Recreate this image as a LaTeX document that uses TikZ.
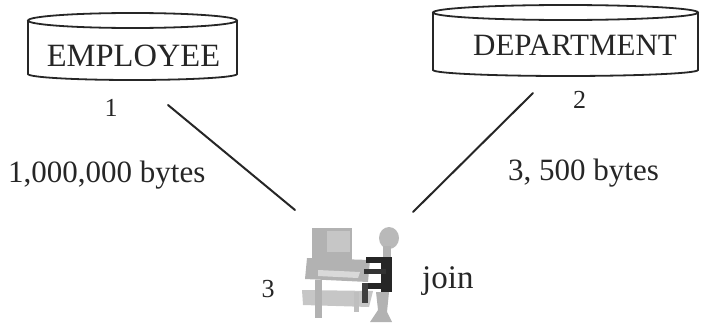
\documentclass[tikz,border=0pt]{standalone}
\usepackage{fontspec}
\setmainfont{Liberation Serif}
\begin{document}
\begin{tikzpicture}[x=1pt,y=-1pt,
  tank/.style={line width=1.8pt,draw=black!85},
  big/.style={font=\fontsize{31}{31}\selectfont,inner sep=0pt,text=black!85},
  tag/.style={inner sep=0pt,text=black!85,font=\fontsize{26}{26}\selectfont},
  link/.style={line width=2pt,draw=black!85,line cap=round}]
\useasboundingbox (0,0) rectangle (709,324);

% relation tanks
\draw[tank] (28,20.5) -- (28,74) arc[start angle=180,end angle=0,x radius=104.5,y radius=6] -- (237,20.5);
\draw[tank] (132.5,20.5) ellipse[x radius=104.5,y radius=7.5];
\draw[tank] (433,12.5) -- (433,70) arc[start angle=180,end angle=0,x radius=132.5,y radius=6] -- (698,12.5);
\draw[tank] (565.5,12.5) ellipse[x radius=132.5,y radius=7.5];

\node[big,anchor=base,font=\fontsize{32.5}{32.5}\selectfont] (emp) at (133.5,66) {EMPLOYEE};
\node[big,anchor=base] (dept) at (575,55) {DEPARTMENT};

% site numbers
\node[tag,anchor=base] (s1) at (111,116) {1};
\node[tag,anchor=base] (s2) at (579.5,108) {2};
\node[tag,anchor=base] (s3) at (268,297) {3};

% transfer sizes
\node[big,anchor=base west] (size1) at (8,182) {1,000,000 bytes};
\node[big,anchor=base west] (size2) at (508,180) {3, 500 bytes};
\node[big,anchor=base west,font=\fontsize{33}{33}\selectfont] (join) at (422,288) {join};

% links to the join site
\coordinate (a1) at (168,105);
\coordinate (a2) at (295,210);
\coordinate (b1) at (533,93);
\coordinate (b2) at (413,212);
\draw[link] (a1) -- (a2);
\draw[link] (b1) -- (b2);

% worker at a computer
\begin{scope}
  % head and neck
  \fill[gray!55] (389,238) ellipse[x radius=10,y radius=11];
  \fill[gray!60] (383,246) rectangle (391,259);
  % monitor
  \fill[gray!60] (312,228) rectangle (352,260);
  \fill[gray!45] (327,231) rectangle (350,252);
  % keyboard shelf
  \fill[gray!60] (307,258) -- (370,260) -- (368,282) -- (305,279) -- cycle;
  \fill[gray!30] (318,270) -- (360,272) -- (358,278) -- (318,276) -- cycle;
  % desk top
  \fill[gray!45] (302,290) -- (373,291) -- (369,307) -- (303,305) -- cycle;
  % desk legs
  \fill[gray!60] (315,280) rectangle (322,318);
  \fill[gray!50] (354,292) rectangle (359,312);
  % figure
  \fill[black!85] (381,257) rectangle (392,292);
  \fill[black!85] (366,257) rectangle (392,263);
  \fill[black!80] (364,269) rectangle (386,274);
  \fill[black!85] (362,283) rectangle (392,289);
  \fill[black!75] (362,283) rectangle (368,303);
  \fill[gray!60] (376,292) -- (389,292) -- (387,312) -- (392,322) -- (370,322) -- (378,310) -- cycle;
\end{scope}
\end{tikzpicture}
\end{document}
